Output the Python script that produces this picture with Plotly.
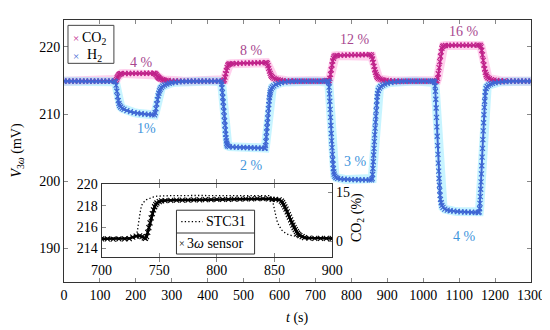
import plotly.graph_objects as go

# ---------------- data ----------------
co2_pts = [
    (0, 214.9), (10, 214.9), (20, 214.9), (30, 214.9), (40, 214.9), (50, 214.9), (60, 214.9), (70, 214.9),
    (80, 214.9), (90, 214.9), (100, 214.9), (110, 214.9), (120, 214.9), (130, 214.9), (140, 214.9),
    (144, 214.95), (146, 215.15), (148, 215.4), (150, 215.62), (152, 215.8), (154, 215.92), (157, 216.0),
    (160, 216.02), (170, 216.03), (180, 216.04), (190, 216.05), (200, 216.05), (210, 216.06), (220, 216.06),
    (230, 216.07), (240, 216.07), (250, 216.07),
    (253, 216.05), (255, 215.95), (257, 215.82), (259, 215.68), (261, 215.55), (263, 215.44), (265, 215.35),
    (267, 215.28), (270, 215.2), (274, 215.12), (278, 215.07), (284, 215.02), (290, 214.99), (300, 214.95),
    (310, 214.93), (320, 214.92), (330, 214.91),
    (340, 214.9), (350, 214.9), (360, 214.9), (370, 214.9), (380, 214.9), (390, 214.9), (400, 214.9),
    (410, 214.9), (420, 214.9), (430, 214.9), (440, 214.9),
    (444, 214.92), (446, 215.1), (448, 215.5), (450, 216.0), (452, 216.5), (454, 216.95), (456, 217.25),
    (458, 217.4), (461, 217.45), (465, 217.48), (470, 217.5), (480, 217.52), (490, 217.55), (500, 217.57),
    (510, 217.58), (520, 217.6), (530, 217.62), (540, 217.63), (550, 217.65), (560, 217.66),
    (564, 217.65), (566, 217.5), (568, 217.2), (570, 216.8), (572, 216.4), (574, 216.05), (576, 215.8),
    (578, 215.6), (581, 215.45), (585, 215.32), (590, 215.2), (596, 215.1), (603, 215.03), (610, 214.98),
    (620, 214.95), (630, 214.93), (640, 214.92), (650, 214.91),
    (660, 214.9), (670, 214.9), (680, 214.9), (690, 214.9), (700, 214.9), (710, 214.9), (720, 214.9),
    (728, 214.95), (732, 215.02), (736, 214.98), (738, 215.0), (740, 215.3), (742, 215.9), (744, 216.6),
    (746, 217.3), (748, 217.9), (750, 218.3), (752, 218.55), (755, 218.68), (760, 218.72), (770, 218.74),
    (780, 218.76), (790, 218.78), (800, 218.8), (810, 218.81), (820, 218.82), (830, 218.83), (840, 218.84),
    (850, 218.84),
    (855, 218.8), (857, 218.6), (859, 218.2), (861, 217.7), (863, 217.1), (865, 216.6), (867, 216.2),
    (869, 215.85), (871, 215.6), (873, 215.45), (876, 215.3), (880, 215.2), (885, 215.12), (890, 215.06),
    (897, 215.01), (905, 214.97), (915, 214.94), (925, 214.92), (935, 214.91),
    (945, 214.9), (955, 214.9), (965, 214.9), (975, 214.9), (985, 214.9), (995, 214.9), (1005, 214.9),
    (1015, 214.9), (1025, 214.9), (1032, 214.9),
    (1036, 214.92), (1038, 215.0), (1040, 215.3), (1042, 216.0), (1044, 216.9), (1046, 217.8), (1048, 218.6),
    (1050, 219.3), (1052, 219.8), (1054, 220.05), (1057, 220.15), (1062, 220.2), (1070, 220.22),
    (1080, 220.24), (1090, 220.25), (1100, 220.25), (1110, 220.26), (1120, 220.26), (1130, 220.27),
    (1140, 220.27), (1150, 220.27), (1155, 220.26),
    (1159, 220.22), (1161, 220.0), (1163, 219.5), (1165, 218.8), (1167, 218.0), (1169, 217.3), (1171, 216.7),
    (1173, 216.2), (1175, 215.85), (1177, 215.6), (1180, 215.4), (1184, 215.25), (1190, 215.13),
    (1197, 215.05), (1205, 215.0), (1215, 214.96), (1225, 214.93), (1240, 214.92),
    (1250, 214.91), (1260, 214.9), (1270, 214.9), (1280, 214.9), (1290, 214.9), (1300, 214.9),
]

h2_pts = [
    (0, 214.9), (10, 214.9), (20, 214.9), (30, 214.9), (40, 214.9), (50, 214.9), (60, 214.9), (70, 214.9),
    (80, 214.9), (90, 214.9), (100, 214.9), (110, 214.9), (120, 214.9), (130, 214.9), (140, 214.9),
    (143, 214.8), (145, 214.3), (147, 213.4), (149, 212.6), (151, 212.0), (153, 211.6), (155, 211.3),
    (158, 211.05), (162, 210.85), (167, 210.7), (175, 210.5), (185, 210.35), (195, 210.22), (205, 210.12),
    (215, 210.05), (225, 210.0), (235, 209.95), (245, 209.9), (252, 209.88),
    (254, 210.2), (256, 210.8), (258, 211.5), (260, 212.15), (262, 212.7), (264, 213.1), (266, 213.45),
    (268, 213.7), (271, 213.95), (275, 214.15), (280, 214.32), (286, 214.46), (293, 214.58), (300, 214.66),
    (310, 214.74), (320, 214.8), (330, 214.84), (340, 214.86), (350, 214.88),
    (360, 214.9), (370, 214.9), (380, 214.9), (390, 214.9), (400, 214.9), (410, 214.9), (420, 214.9),
    (430, 214.9),
    (438, 214.85), (439, 214.5), (440, 213.9), (441, 213.2), (442, 212.5), (443, 211.8), (444, 211.1),
    (445, 210.4), (446, 209.7), (447, 209.0), (448, 208.3), (449, 207.6), (450, 207.0), (451, 206.45),
    (452, 206.0), (453, 205.65), (454, 205.4), (456, 205.25), (460, 205.15), (470, 205.1), (480, 205.08),
    (490, 205.05), (500, 205.02), (510, 205.0), (520, 204.98), (530, 204.96), (540, 204.94), (550, 204.92),
    (558, 204.9),
    (560, 204.95), (561, 205.3), (562, 205.9), (563, 206.6), (564, 207.3), (565, 208.0), (566, 208.7),
    (567, 209.4), (568, 210.1), (569, 210.8), (570, 211.4), (571, 211.95), (572, 212.45), (573, 212.85),
    (574, 213.2), (575, 213.45), (577, 213.75), (580, 214.0), (584, 214.2), (590, 214.4), (597, 214.55),
    (605, 214.67), (615, 214.76), (625, 214.82), (635, 214.86), (645, 214.88),
    (655, 214.9), (665, 214.9), (675, 214.9), (685, 214.9), (695, 214.9), (705, 214.9), (715, 214.9),
    (725, 214.9), (732, 214.9),
    (735, 214.88), (737, 214.7), (738, 214.0), (739, 213.0), (740, 211.9), (741, 210.7), (742, 209.5),
    (743, 208.3), (744, 207.1), (745, 206.0), (746, 205.0), (747, 204.0), (748, 203.2), (749, 202.5),
    (750, 201.9), (751, 201.4), (752, 201.05), (754, 200.75), (757, 200.55), (762, 200.42), (770, 200.35),
    (780, 200.3), (790, 200.27), (800, 200.25), (810, 200.23), (820, 200.22), (830, 200.2), (840, 200.2),
    (850, 200.2), (856, 200.2),
    (858, 200.4), (859, 201.0), (860, 201.9), (861, 202.9), (862, 203.9), (863, 204.9), (864, 205.9),
    (865, 206.9), (866, 207.9), (867, 208.8), (868, 209.7), (869, 210.5), (870, 211.3), (871, 212.0),
    (872, 212.6), (873, 213.05), (875, 213.5), (878, 213.85), (882, 214.1), (887, 214.3), (893, 214.46),
    (900, 214.58), (910, 214.7), (920, 214.78), (930, 214.83), (940, 214.86), (950, 214.88),
    (960, 214.9), (970, 214.9), (980, 214.9), (990, 214.9), (1000, 214.9), (1010, 214.9), (1020, 214.9),
    (1026, 214.9),
    (1030, 214.88), (1032, 214.7), (1033, 214.2), (1034, 213.4), (1035, 212.2), (1036, 210.9), (1037, 209.5),
    (1038, 208.1), (1039, 206.7), (1040, 205.3), (1041, 204.0), (1042, 202.7), (1043, 201.5), (1044, 200.4),
    (1045, 199.4), (1046, 198.6), (1047, 197.9), (1048, 197.3), (1050, 196.8), (1052, 196.4), (1055, 196.1),
    (1060, 195.85), (1067, 195.7), (1075, 195.6), (1085, 195.55), (1095, 195.5), (1105, 195.45),
    (1115, 195.42), (1125, 195.4), (1135, 195.38), (1145, 195.36), (1153, 195.35),
    (1156, 195.45), (1157, 195.9), (1158, 196.7), (1159, 197.7), (1160, 198.8), (1161, 199.9), (1162, 201.1),
    (1163, 202.3), (1164, 203.6), (1165, 204.9), (1166, 206.2), (1167, 207.5), (1168, 208.7), (1169, 209.9),
    (1170, 211.0), (1171, 211.9), (1172, 212.7), (1173, 213.3), (1175, 213.8), (1178, 214.1), (1182, 214.3),
    (1187, 214.45), (1193, 214.57), (1200, 214.66), (1210, 214.75), (1220, 214.81), (1230, 214.85),
    (1240, 214.87), (1250, 214.89),
    (1260, 214.9), (1270, 214.9), (1280, 214.9), (1290, 214.9), (1300, 214.9),
]

# inset: 3-omega sensor (mV) and STC31 reference (CO2 %)
sensor_pts = [
    (700, 214.9), (705, 214.9), (710, 214.88), (715, 214.9), (720, 214.9), (724, 214.92), (727, 215.05),
    (730, 215.15), (733, 215.17), (735, 215.1), (737, 214.98), (738, 214.95), (739, 215.1), (740, 215.5),
    (741, 215.95), (742, 216.4), (743, 216.85), (744, 217.25), (745, 217.6), (746, 217.9), (747, 218.1),
    (748, 218.25), (750, 218.38), (752, 218.44), (755, 218.48), (760, 218.5), (765, 218.51), (770, 218.52),
    (775, 218.53), (780, 218.54), (785, 218.55), (790, 218.56), (795, 218.57), (800, 218.58), (805, 218.59),
    (810, 218.6), (815, 218.61), (820, 218.62), (825, 218.63), (830, 218.64), (835, 218.65), (840, 218.66),
    (845, 218.64), (848, 218.6), (851, 218.58), (854, 218.55), (856, 218.42), (857, 218.28), (858, 218.1),
    (859, 217.88), (860, 217.67), (861, 217.42), (862, 217.17), (863, 216.92), (864, 216.67), (865, 216.42),
    (866, 216.17), (867, 215.95), (868, 215.75), (869, 215.57), (870, 215.42), (871, 215.3), (872, 215.2),
    (874, 215.1), (876, 215.02), (880, 214.97), (885, 214.95), (890, 214.94), (895, 214.93), (900, 214.93),
]

stc_pts = [
    (700, 1.0), (720, 1.0), (728, 1.0), (730, 1.6), (731, 3.0), (732, 5.5), (733, 8.0), (734, 10.0),
    (735, 11.2), (737, 12.2), (739, 12.8), (742, 13.3), (745, 13.6), (748, 13.85), (752, 13.95), (760, 14.0),
    (780, 14.05), (800, 14.05), (820, 14.05), (840, 14.05), (846, 14.0), (848, 13.0), (849, 11.2),
    (850, 9.2), (851, 7.6), (852, 6.4), (853, 5.4), (854, 4.6), (856, 3.5), (858, 2.8), (860, 2.4),
    (862, 2.0), (865, 1.7), (868, 1.45), (872, 1.25), (878, 1.1), (885, 1.05), (900, 1.0),
]

x_ticks = list(range(0, 1301, 100))
y_ticks = [190, 200, 210, 220]
ins_x_ticks = [700, 750, 800, 850, 900]
ins_y_ticks = [214, 216, 218, 220]
ins_y2_ticks = [0, 15]

co2_labels = ["4 %", "8 %", "12 %", "16 %"]
co2_label_t = [217, 522, 811, 1114]
co2_label_v = [217.7, 219.5, 221.1, 222.3]
h2_labels = ["1%", "2 %", "3 %", "4 %"]
h2_label_t = [230, 522, 811, 1114]
h2_label_v = [207.8, 202.4, 203.0, 191.7]

# ---------------- styling ----------------
FONT = "Liberation Serif"
CO2_C = "#c0228a"
CO2_HALO = "rgba(255,150,215,0.45)"
H2_C = "#3f67d4"
H2_HALO = "rgba(130,230,255,0.45)"
CO2_TXT = "#a8478f"
H2_TXT = "#3f95dc"

OFF = 8                     # page body margin of the browser
W, H = 550 - OFF, 330 - OFF
L, R, T, B = 64 - OFF, 18, 13 - OFF, 48
PW, PH = W - L - R, H - T - B


def px(x):   # page pixel -> paper fraction
    return (x - OFF - L) / PW


def py(y):
    return (H - B - (y - OFF)) / PH


def split(pts):
    return [p[0] for p in pts], [p[1] for p in pts]


co2_t, co2_v = split(co2_pts)
h2_t, h2_v = split(h2_pts)
sen_t, sen_v = split(sensor_pts)
stc_t, stc_v = split(stc_pts)

fig = go.Figure()

# halos
fig.add_trace(go.Scatter(x=co2_t, y=co2_v, mode="lines", line=dict(color=CO2_HALO, width=9),
                         hoverinfo="skip", showlegend=False))
fig.add_trace(go.Scatter(x=h2_t, y=h2_v, mode="lines", line=dict(color=H2_HALO, width=9),
                         hoverinfo="skip", showlegend=False))
# cores
fig.add_trace(go.Scatter(x=co2_t, y=co2_v, mode="lines+markers", name="CO2",
                         line=dict(color=CO2_C, width=2),
                         marker=dict(symbol="x-thin", size=5, line=dict(color=CO2_C, width=1.2)),
                         showlegend=False))
fig.add_trace(go.Scatter(x=h2_t, y=h2_v, mode="lines+markers", name="H2",
                         line=dict(color=H2_C, width=2),
                         marker=dict(symbol="x-thin", size=5, line=dict(color=H2_C, width=1.2)),
                         showlegend=False))

# inset traces
fig.add_trace(go.Scatter(x=stc_t, y=stc_v, mode="lines", xaxis="x2", yaxis="y3",
                         line=dict(color="black", width=1.3, dash="1.3px,2.2px"), showlegend=False))
fig.add_trace(go.Scatter(x=sen_t, y=sen_v, mode="lines+markers", xaxis="x2", yaxis="y2",
                         line=dict(color="black", width=2.5),
                         marker=dict(symbol="x-thin", size=5, line=dict(color="black", width=1.1)),
                         showlegend=False))

ann = []
for txt, t, v in zip(co2_labels, co2_label_t, co2_label_v):
    ann.append(dict(x=t, y=v, xref="x", yref="y", text=txt, showarrow=False,
                    xanchor="center", yanchor="middle",
                    font=dict(family=FONT, size=14, color=CO2_TXT)))
for txt, t, v in zip(h2_labels, h2_label_t, h2_label_v):
    ann.append(dict(x=t, y=v, xref="x", yref="y", text=txt, showarrow=False,
                    xanchor="center", yanchor="middle",
                    font=dict(family=FONT, size=14, color=H2_TXT)))


def pann(x, y, text, size=14, color="black", xanchor="center", angle=0):
    return dict(x=px(x), y=py(y), xref="paper", yref="paper", text=text, showarrow=False,
                xanchor=xanchor, yanchor="middle", textangle=angle,
                font=dict(family=FONT, size=size, color=color))


# main legend
ann += [
    pann(76, 31.5, "×", 11, CO2_C),
    pann(80.5, 31.5, "CO<sub>2</sub>", xanchor="left"),
    pann(76, 49.5, "×", 11, H2_C),
    pann(85, 49.5, "H<sub>2</sub>", xanchor="left"),
]
# inset legend
ann += [
    pann(204.5, 220, "STC31", xanchor="left"),
    pann(182, 242.5, "×", 10),
    pann(185.5, 242.5, "3<i>ω</i> sensor", xanchor="left"),
]
# axis titles
ann += [
    pann(17, 147, "<i>V</i><sub>3<i>ω</i></sub> (mV)", angle=-90),
    pann(298, 318.5, "<i>t</i> (s)"),
    pann(358, 216, "CO<sub>2</sub> (%)", angle=-90),
]

shapes = [
    dict(type="rect", xref="paper", yref="paper", x0=px(68), x1=px(114), y0=py(57.5), y1=py(18.5),
         line=dict(color="#444", width=1), fillcolor="white", layer="above"),
    dict(type="rect", xref="paper", yref="paper", x0=px(176.7), x1=px(255), y0=py(253.3), y1=py(208.3),
         line=dict(color="#333", width=1), fillcolor="white", layer="above"),
    dict(type="line", xref="paper", yref="paper", x0=px(176.7), x1=px(255), y0=py(231.7), y1=py(231.7),
         line=dict(color="#333", width=1), layer="above"),
    dict(type="line", xref="paper", yref="paper", x0=px(181.5), x1=px(203), y0=py(220), y1=py(220),
         line=dict(color="black", width=1.3, dash="1.3px,2.2px"), layer="above"),
]

axis_common = dict(ticks="inside", ticklen=4, tickcolor="#888", showline=True, linecolor="#333",
                   linewidth=1, showgrid=False, zeroline=False,
                   tickfont=dict(family=FONT, size=14, color="black"))

fig.update_layout(
    width=W, height=H,
    margin=dict(l=L, r=R, t=T, b=B),
    paper_bgcolor="white", plot_bgcolor="white",
    showlegend=False,
    font=dict(family=FONT, size=14, color="black"),
    xaxis=dict(range=[0, 1300], tickvals=x_ticks, mirror="allticks", domain=[0, 1], **axis_common),
    yaxis=dict(range=[185, 224], tickvals=y_ticks, mirror="allticks", domain=[0, 1], **axis_common),
    xaxis2=dict(range=[700, 900], tickvals=ins_x_ticks, mirror="allticks", anchor="y2",
                domain=[px(101.7), px(332.7)], **axis_common),
    yaxis2=dict(range=[213.2, 220], tickvals=ins_y_ticks, mirror=True, anchor="x2",
                domain=[py(256.3), py(181.7)], **axis_common),
    yaxis3=dict(range=[-4.9, 17.5], tickvals=ins_y2_ticks, overlaying="y2", side="right", anchor="x2",
                **axis_common),
    annotations=ann,
    shapes=shapes,
)

fig.write_html("out.html")
